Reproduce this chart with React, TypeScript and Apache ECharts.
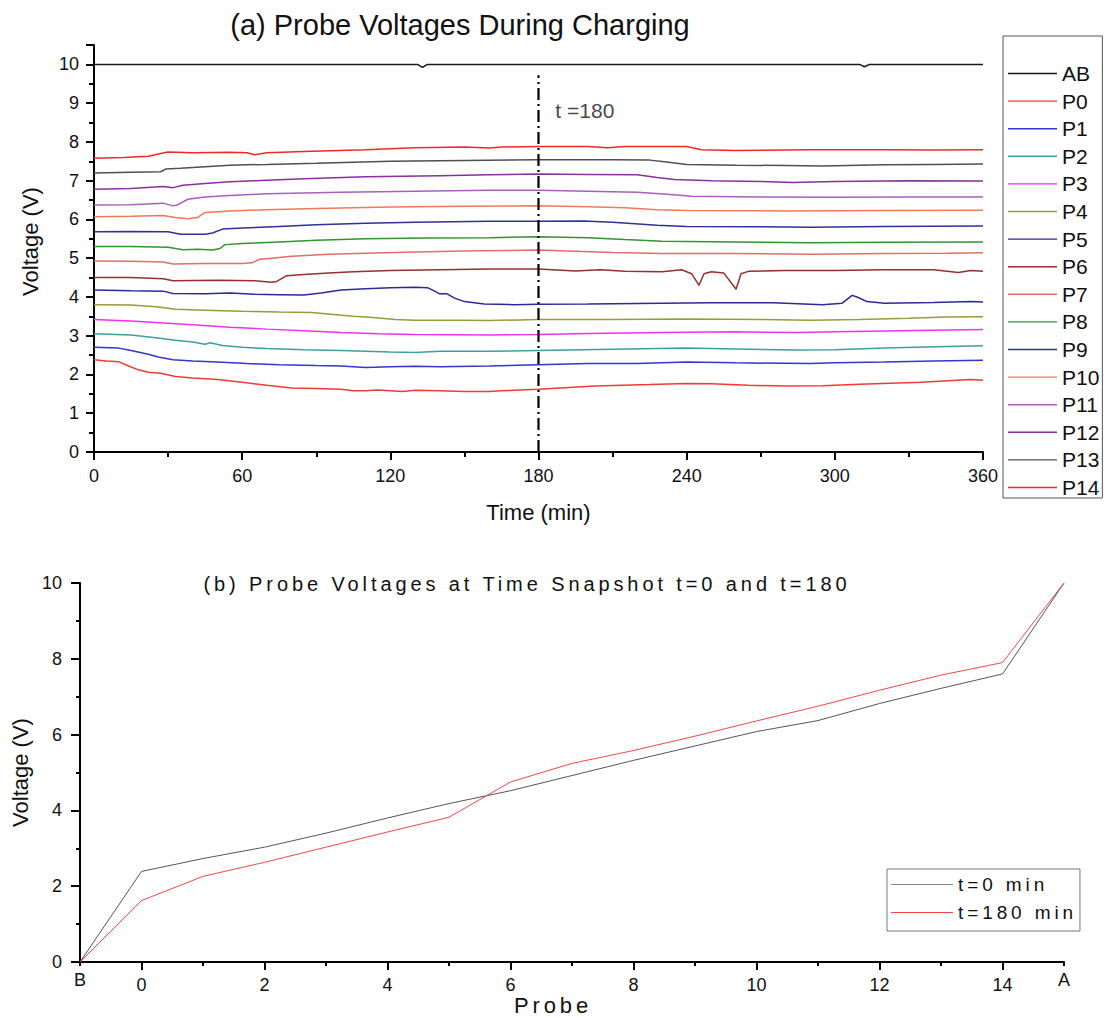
import React, { useEffect, useRef } from 'react';
import * as echarts from 'echarts';

// ---------- (a) Probe voltages during charging: [time (min), voltage (V)] ----------
const AB: number[][] = [[0, 10], [131, 10], [133, 9.92], [135, 10], [310, 10], [312, 9.94], [314, 10], [360, 10]];
const P0: number[][] = [[0, 2.38], [5, 2.35], [10, 2.33], [14, 2.22], [18, 2.12], [22, 2.06], [27, 2.03], [33, 1.95], [40, 1.91], [50, 1.87], [60, 1.8], [70, 1.72], [80, 1.65], [90, 1.64], [100, 1.62], [105, 1.58], [110, 1.58], [115, 1.6], [125, 1.56], [130, 1.59], [140, 1.58], [150, 1.56], [160, 1.56], [165, 1.58], [180, 1.62], [203, 1.7], [225, 1.74], [240, 1.77], [250, 1.76], [265, 1.72], [280, 1.7], [295, 1.71], [310, 1.75], [335, 1.8], [355, 1.87], [360, 1.85]];
const P1: number[][] = [[0, 2.7], [10, 2.68], [15, 2.62], [22, 2.52], [26, 2.45], [32, 2.38], [40, 2.35], [50, 2.32], [62, 2.28], [75, 2.25], [90, 2.23], [100, 2.22], [110, 2.18], [120, 2.2], [130, 2.21], [140, 2.2], [160, 2.22], [180, 2.25], [200, 2.28], [220, 2.28], [240, 2.32], [260, 2.3], [290, 2.28], [300, 2.3], [320, 2.32], [340, 2.35], [360, 2.37]];
const P2: number[][] = [[0, 3.05], [15, 3.02], [25, 2.95], [33, 2.88], [40, 2.84], [45, 2.78], [47, 2.82], [52, 2.75], [60, 2.7], [70, 2.67], [85, 2.64], [100, 2.62], [120, 2.58], [130, 2.57], [140, 2.6], [160, 2.6], [180, 2.62], [210, 2.65], [240, 2.68], [260, 2.66], [285, 2.63], [300, 2.64], [320, 2.68], [345, 2.72], [360, 2.74]];
const P3: number[][] = [[0, 3.42], [15, 3.38], [30, 3.32], [40, 3.28], [55, 3.22], [70, 3.17], [85, 3.13], [100, 3.08], [115, 3.05], [130, 3.03], [160, 3.02], [180, 3.03], [200, 3.06], [230, 3.08], [260, 3.1], [285, 3.08], [300, 3.1], [320, 3.12], [340, 3.14], [360, 3.16]];
const P4: number[][] = [[0, 3.8], [15, 3.79], [25, 3.75], [33, 3.68], [45, 3.66], [60, 3.63], [75, 3.61], [88, 3.6], [97, 3.55], [105, 3.5], [113, 3.47], [122, 3.42], [130, 3.4], [150, 3.4], [160, 3.39], [180, 3.42], [210, 3.42], [240, 3.43], [270, 3.42], [290, 3.4], [310, 3.42], [330, 3.45], [345, 3.48], [360, 3.49]];
const P5: number[][] = [[0, 4.18], [15, 4.16], [28, 4.15], [32, 4.09], [45, 4.08], [55, 4.1], [65, 4.07], [75, 4.06], [85, 4.05], [92, 4.1], [100, 4.18], [110, 4.21], [120, 4.24], [130, 4.25], [135, 4.24], [138, 4.15], [140, 4.08], [143, 4.08], [146, 3.97], [150, 3.88], [158, 3.82], [170, 3.8], [180, 3.81], [200, 3.82], [230, 3.84], [250, 3.85], [275, 3.85], [295, 3.8], [303, 3.84], [307, 4.04], [309, 4.0], [313, 3.88], [320, 3.84], [340, 3.86], [355, 3.88], [360, 3.87]];
const P6: number[][] = [[0, 4.5], [15, 4.5], [28, 4.47], [32, 4.42], [50, 4.43], [65, 4.42], [72, 4.38], [74, 4.4], [78, 4.55], [85, 4.58], [95, 4.62], [105, 4.65], [120, 4.68], [140, 4.7], [160, 4.72], [180, 4.72], [195, 4.67], [205, 4.7], [215, 4.66], [230, 4.65], [238, 4.7], [242, 4.6], [245, 4.3], [247, 4.6], [250, 4.65], [255, 4.62], [260, 4.2], [262, 4.6], [265, 4.66], [280, 4.68], [300, 4.68], [320, 4.7], [340, 4.7], [350, 4.63], [355, 4.68], [360, 4.66]];
const P7: number[][] = [[0, 4.93], [15, 4.92], [28, 4.9], [32, 4.85], [45, 4.86], [60, 4.86], [64, 4.88], [67, 4.97], [72, 5.0], [80, 5.05], [95, 5.1], [110, 5.13], [130, 5.16], [155, 5.19], [180, 5.21], [195, 5.18], [210, 5.15], [230, 5.12], [260, 5.12], [290, 5.1], [320, 5.12], [345, 5.13], [360, 5.14]];
const P8: number[][] = [[0, 5.3], [15, 5.3], [30, 5.28], [36, 5.22], [42, 5.23], [48, 5.21], [51, 5.25], [53, 5.35], [60, 5.38], [75, 5.42], [90, 5.46], [110, 5.5], [135, 5.52], [160, 5.53], [180, 5.55], [200, 5.53], [215, 5.48], [230, 5.44], [260, 5.42], [290, 5.4], [320, 5.41], [360, 5.42]];
const P9: number[][] = [[0, 5.68], [15, 5.69], [30, 5.68], [35, 5.62], [45, 5.62], [48, 5.65], [52, 5.75], [60, 5.78], [75, 5.82], [90, 5.86], [110, 5.9], [130, 5.93], [160, 5.95], [180, 5.95], [198, 5.96], [210, 5.93], [228, 5.85], [240, 5.82], [270, 5.81], [290, 5.8], [320, 5.82], [360, 5.83]];
const P10: number[][] = [[0, 6.07], [15, 6.08], [28, 6.1], [33, 6.05], [38, 6.02], [42, 6.05], [45, 6.18], [55, 6.22], [70, 6.25], [90, 6.28], [120, 6.32], [150, 6.34], [180, 6.35], [200, 6.33], [215, 6.3], [228, 6.25], [240, 6.23], [280, 6.22], [320, 6.23], [360, 6.24]];
const P11: number[][] = [[0, 6.37], [15, 6.38], [28, 6.42], [32, 6.35], [34, 6.38], [38, 6.52], [45, 6.58], [55, 6.62], [70, 6.66], [100, 6.7], [130, 6.73], [160, 6.75], [180, 6.75], [200, 6.73], [220, 6.7], [232, 6.65], [242, 6.6], [270, 6.58], [300, 6.57], [330, 6.58], [360, 6.58]];
const P12: number[][] = [[0, 6.78], [15, 6.8], [28, 6.85], [32, 6.82], [36, 6.88], [45, 6.93], [55, 6.97], [65, 7.0], [85, 7.05], [110, 7.1], [140, 7.13], [160, 7.15], [180, 7.17], [200, 7.16], [220, 7.15], [228, 7.08], [235, 7.03], [250, 7.0], [270, 6.98], [283, 6.95], [300, 6.98], [330, 7.0], [360, 6.99]];
const P13: number[][] = [[0, 7.2], [15, 7.22], [27, 7.23], [29, 7.3], [35, 7.32], [45, 7.36], [55, 7.4], [70, 7.42], [90, 7.45], [120, 7.5], [150, 7.52], [180, 7.54], [210, 7.54], [225, 7.53], [232, 7.48], [240, 7.42], [260, 7.4], [280, 7.39], [295, 7.38], [320, 7.41], [340, 7.42], [360, 7.43]];
const P14: number[][] = [[0, 7.58], [12, 7.6], [22, 7.63], [27, 7.7], [30, 7.74], [40, 7.72], [55, 7.73], [62, 7.72], [65, 7.67], [70, 7.72], [85, 7.75], [110, 7.8], [130, 7.85], [150, 7.87], [160, 7.84], [165, 7.87], [180, 7.88], [200, 7.88], [208, 7.85], [215, 7.88], [240, 7.88], [246, 7.8], [260, 7.78], [290, 7.8], [320, 7.8], [340, 7.79], [360, 7.8]];

const SERIES_NAMES = ['AB', 'P0', 'P1', 'P2', 'P3', 'P4', 'P5', 'P6', 'P7', 'P8', 'P9', 'P10', 'P11', 'P12', 'P13', 'P14'];
const SERIES_DATA = [AB, P0, P1, P2, P3, P4, P5, P6, P7, P8, P9, P10, P11, P12, P13, P14];
const SERIES_COLORS = ['#1a1a1a', '#f03a3a', '#3535d0', '#3aa0a0', '#f030f0', '#9a9a3a', '#2a2a98', '#962f2f', '#e86a6a', '#30962f', '#303095', '#f2785a', '#a860b8', '#8a2fa0', '#505050', '#f02828'];

const T180_LINE: number[][] = [[180, 0], [180, 9.72]];
const T180_LABEL_POS: number[][] = [[185, 8.81]];

// ---------- (b) Snapshot ----------
const PROBE_CATEGORIES = ['B', '0', '1', '2', '3', '4', '5', '6', '7', '8', '9', '10', '11', '12', '13', '14', 'A'];
const SNAP_T0 = [0, 2.39, 2.73, 3.03, 3.4, 3.8, 4.18, 4.52, 4.92, 5.32, 5.7, 6.08, 6.37, 6.82, 7.22, 7.6, 10];
const SNAP_T180 = [0, 1.62, 2.26, 2.63, 3.03, 3.43, 3.82, 4.75, 5.24, 5.58, 5.96, 6.36, 6.75, 7.17, 7.57, 7.9, 10];

const FONT = 'Liberation Sans, sans-serif';
// spaced-out font used by panel (b) texts (letter-spacing added through CSS)
const FONT_B = 'Arial, Liberation Sans, sans-serif';
const INK = '#111';

const SPACING_CSS =
  'text[style*="Arial"], tspan[style*="Arial"], text[font-family*="Arial"], tspan[font-family*="Arial"] { letter-spacing: 3.9px; }';

export default function App() {
  const ref = useRef<HTMLDivElement>(null);
  useEffect(() => {
    if (!ref.current) return;
    const chart = echarts.init(ref.current, null, { renderer: 'svg' });
    const axisLineStyle = { color: '#000', width: 2 };
    const tickStyle = { color: '#000', width: 2 };

    const topSeries: any[] = SERIES_NAMES.map((name, i) => ({
      name,
      type: 'line',
      xAxisIndex: 0,
      yAxisIndex: 0,
      data: SERIES_DATA[i],
      symbol: 'none',
      lineStyle: { width: 1.5, color: SERIES_COLORS[i] },
      itemStyle: { color: SERIES_COLORS[i] },
      z: 3,
    }));

    const option: any = {
      animation: false,
      backgroundColor: '#ffffff',
      title: [
        {
          text: '(a) Probe Voltages During Charging',
          left: 460,
          top: 10,
          textAlign: 'center',
          padding: 0,
          textStyle: { fontFamily: FONT, fontSize: 29, fontWeight: 'normal', color: INK },
        },
        {
          text: '(b) Probe Voltages at Time Snapshot t=0 and t=180',
          left: 527,
          top: 574,
          textAlign: 'center',
          padding: 0,
          textStyle: { fontFamily: FONT_B, fontSize: 20, fontWeight: 'normal', color: INK },
        },
      ],
      legend: [
        {
          data: SERIES_NAMES,
          orient: 'vertical',
          left: 1003,
          top: 36,
          padding: [27, 3, 0, 5],
          icon: 'rect',
          itemWidth: 49,
          itemHeight: 1.4,
          itemGap: 6.6,
          borderColor: '#555',
          borderWidth: 1,
          selectedMode: false,
          textStyle: { fontFamily: FONT, fontSize: 21, color: INK, lineHeight: 20 },
        },
        {
          data: ['t=0 min', 't=180 min'],
          orient: 'vertical',
          left: 887,
          top: 869,
          padding: [6, 38, 9, 4],
          icon: 'rect',
          itemWidth: 62,
          itemHeight: 1.2,
          itemGap: 9,
          borderColor: '#777',
          borderWidth: 1,
          selectedMode: false,
          textStyle: { fontFamily: FONT_B, fontSize: 19, color: INK, lineHeight: 19 },
        },
      ],
      grid: [
        { left: 94, right: 129, top: 45, bottom: 566, containLabel: false, outerBoundsMode: 'none' },
        { left: 80, right: 48, top: 583, bottom: 56, containLabel: false, outerBoundsMode: 'none' },
      ],
      xAxis: [
        {
          gridIndex: 0,
          type: 'value',
          min: 0,
          max: 360,
          interval: 60,
          axisLine: { show: true, lineStyle: axisLineStyle },
          axisTick: { show: true, length: 8, lineStyle: tickStyle },
          minorTick: { show: true, splitNumber: 2, length: 5, lineStyle: tickStyle },
          axisLabel: { margin: 15, fontFamily: FONT, fontSize: 18, color: INK },
          splitLine: { show: false },
          minorSplitLine: { show: false },
          name: 'Time (min)',
          nameLocation: 'middle',
          nameGap: 49,
          nameTextStyle: { fontFamily: FONT, fontSize: 22, color: INK },
        },
        {
          gridIndex: 1,
          type: 'category',
          data: PROBE_CATEGORIES,
          boundaryGap: false,
          position: 'bottom',
          axisLine: { show: true, lineStyle: axisLineStyle },
          axisTick: { show: true, length: 8, lineStyle: tickStyle, interval: (i: number) => i % 2 === 1 },
          axisLabel: {
            margin: 14,
            fontFamily: FONT,
            fontSize: 18,
            color: INK,
            interval: (i: number) => i === 0 || i === 16 || i % 2 === 1,
            formatter: (v: string) => (v === 'B' || v === 'A' ? '{ab|' + v + '}' : v),
            rich: { ab: { fontFamily: FONT, fontSize: 18, color: INK, lineHeight: 8 } },
          },
          splitLine: { show: false },
          name: 'Probe',
          nameLocation: 'middle',
          nameGap: 31,
          nameTextStyle: { fontFamily: FONT_B, fontSize: 22, color: INK, padding: [0, 38, 0, 0] },
        },
        {
          gridIndex: 1,
          type: 'category',
          data: PROBE_CATEGORIES,
          boundaryGap: false,
          position: 'bottom',
          axisLine: { show: false },
          axisTick: { show: true, length: 4, lineStyle: tickStyle, interval: 0 },
          axisLabel: { show: false },
          splitLine: { show: false },
        },
      ],
      yAxis: [
        {
          gridIndex: 0,
          type: 'value',
          min: 0,
          max: 10.5,
          interval: 1,
          axisLine: { show: true, lineStyle: axisLineStyle },
          axisTick: { show: true, length: 8, lineStyle: tickStyle },
          minorTick: { show: true, splitNumber: 2, length: 5, lineStyle: tickStyle },
          axisLabel: {
            margin: 15,
            fontFamily: FONT,
            fontSize: 18,
            color: INK,
            formatter: (v: number) => (Number.isInteger(v) ? String(v) : ''),
          },
          splitLine: { show: false },
          minorSplitLine: { show: false },
          name: 'Voltage (V)',
          nameLocation: 'middle',
          nameGap: 53,
          nameTextStyle: { fontFamily: FONT, fontSize: 22, color: INK, padding: [0, 0, 0, 14] },
        },
        {
          gridIndex: 1,
          type: 'value',
          min: 0,
          max: 10,
          interval: 2,
          axisLine: { show: true, lineStyle: axisLineStyle },
          axisTick: { show: true, length: 9, lineStyle: tickStyle },
          minorTick: { show: true, splitNumber: 2, length: 4, lineStyle: tickStyle },
          axisLabel: { margin: 18, fontFamily: FONT, fontSize: 18, color: INK },
          splitLine: { show: false },
          minorSplitLine: { show: false },
          name: 'Voltage (V)',
          nameLocation: 'middle',
          nameGap: 48,
          nameTextStyle: { fontFamily: FONT, fontSize: 22, color: INK },
        },
      ],
      series: [
        ...topSeries,
        {
          name: 't180-marker',
          type: 'line',
          xAxisIndex: 0,
          yAxisIndex: 0,
          data: T180_LINE,
          symbol: 'none',
          lineStyle: { color: '#000', width: 2.2, type: [12, 4, 2, 4] },
          z: 4,
        },
        {
          name: 't180-label',
          type: 'scatter',
          xAxisIndex: 0,
          yAxisIndex: 0,
          data: T180_LABEL_POS,
          symbolSize: 1,
          itemStyle: { color: 'rgba(0,0,0,0)' },
          label: {
            show: true,
            position: 'right',
            distance: 4,
            formatter: 't =180',
            fontFamily: FONT,
            fontSize: 21,
            color: INK,
          },
        },
        {
          name: 't=0 min',
          type: 'line',
          xAxisIndex: 1,
          yAxisIndex: 1,
          data: SNAP_T0,
          symbol: 'none',
          lineStyle: { width: 1, color: '#555555' },
          itemStyle: { color: '#888888' },
        },
        {
          name: 't=180 min',
          type: 'line',
          xAxisIndex: 1,
          yAxisIndex: 1,
          data: SNAP_T180,
          symbol: 'none',
          lineStyle: { width: 1, color: '#f04848' },
          itemStyle: { color: '#f04848' },
        },
      ],
    };
    chart.setOption(option);
    return () => chart.dispose();
  }, []);
  return (
    <>
      <style>{SPACING_CSS}</style>
      <div
        ref={ref}
        style={{ position: 'absolute', left: 0, top: 0, width: 1112, height: 1018, background: '#fff' }}
      />
    </>
  );
}
